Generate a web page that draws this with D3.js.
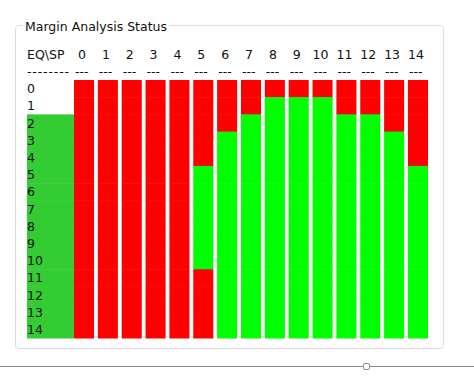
<meta charset="utf-8">
<style>
  body { margin: 0; background: #fff; }
  text { font-family: "DejaVu Sans", sans-serif; font-size: 12.5px; fill: #111; }
</style>
<script src="https://cdn.jsdelivr.net/npm/d3@7"></script>
<svg id="chart" width="474" height="378"></svg>
<script>
  // SP columns and EQ rows
  var spLabels = d3.range(15);
  var eqLabels = d3.range(15);
  // 1 = pass (green), 0 = fail (red); one array per SP column, index = EQ row
  var passMatrix = [
    [0,0,0,0,0,0,0,0,0,0,0,0,0,0,0],
    [0,0,0,0,0,0,0,0,0,0,0,0,0,0,0],
    [0,0,0,0,0,0,0,0,0,0,0,0,0,0,0],
    [0,0,0,0,0,0,0,0,0,0,0,0,0,0,0],
    [0,0,0,0,0,0,0,0,0,0,0,0,0,0,0],
    [0,0,0,0,0,1,1,1,1,1,1,0,0,0,0],
    [0,0,0,1,1,1,1,1,1,1,1,1,1,1,1],
    [0,0,1,1,1,1,1,1,1,1,1,1,1,1,1],
    [0,1,1,1,1,1,1,1,1,1,1,1,1,1,1],
    [0,1,1,1,1,1,1,1,1,1,1,1,1,1,1],
    [0,1,1,1,1,1,1,1,1,1,1,1,1,1,1],
    [0,0,1,1,1,1,1,1,1,1,1,1,1,1,1],
    [0,0,1,1,1,1,1,1,1,1,1,1,1,1,1],
    [0,0,0,1,1,1,1,1,1,1,1,1,1,1,1],
    [0,0,0,0,0,1,1,1,1,1,1,1,1,1,1]
  ];
  // EQ rows marked as selected in the label column
  var eqSelected = [2,3,4,5,6,7,8,9,10,11,12,13,14];

  var svg = d3.select('#chart');

  var x = d3.scaleBand().domain(spLabels).range([74, 428]).paddingInner(0.16);
  var y = d3.scaleBand().domain(eqLabels).range([80, 338]);

  // group box
  svg.append('rect')
    .attr('x', 15.5).attr('y', 25.5)
    .attr('width', 428).attr('height', 323)
    .attr('rx', 3)
    .attr('fill', 'none').attr('stroke', '#d9dde3');
  var title = svg.append('text').attr('x', 25).attr('y', 31).text('Margin Analysis Status');
  var bb = title.node().getBBox();
  svg.insert('rect', 'text').attr('x', bb.x - 2).attr('y', 20).attr('width', bb.width + 4).attr('height', 10).attr('fill', '#fff');

  // header
  svg.append('text').attr('x', 27).attr('y', 59).text('EQ\\SP');
  svg.append('text').attr('x', 27).attr('y', 76).attr('textLength', 42).text('--------');

  svg.selectAll('.colLabel').data(spLabels).enter().append('text')
    .attr('x', function(d){ return x(d) + x.bandwidth() / 2 - 2; })
    .attr('y', 59)
    .attr('text-anchor', 'middle')
    .text(function(d){ return d; });
  svg.selectAll('.colDash').data(spLabels).enter().append('text')
    .attr('x', function(d){ return x(d) + 1; })
    .attr('y', 76)
    .text('---');

  // selected EQ rows
  svg.selectAll('.sel').data(eqSelected).enter().append('rect')
    .attr('x', 27)
    .attr('y', function(d){ return y(d); })
    .attr('width', 74 - 27)
    .attr('height', y.bandwidth() + 0.5)
    .attr('fill', '#33cc33');

  svg.selectAll('.rowLabel').data(eqLabels).enter().append('text')
    .attr('x', 27)
    .attr('y', function(d){ return y(d) + y.bandwidth() / 2; })
    .attr('dy', '0.36em')
    .text(function(d){ return d; });

  // cells
  var cells = [];
  passMatrix.forEach(function(col, c){
    col.forEach(function(v, r){ cells.push({eq: r, sp: c, pass: v}); });
  });
  svg.selectAll('.cell').data(cells).enter().append('rect')
    .attr('x', function(d){ return x(d.sp); })
    .attr('y', function(d){ return y(d.eq); })
    .attr('width', x.bandwidth())
    .attr('height', y.bandwidth() + 0.5)
    .attr('fill', function(d){ return d.pass ? '#00ff00' : '#ff0000'; });

  // splitter at the bottom
  svg.append('line')
    .attr('x1', 0).attr('x2', 474).attr('y1', 366.5).attr('y2', 366.5)
    .attr('stroke', '#8a8a8a');
  svg.append('rect')
    .attr('x', 363.5).attr('y', 363.5).attr('width', 6).attr('height', 6).attr('rx', 1.5)
    .attr('fill', '#fff').attr('stroke', '#8a8a8a');
</script>
